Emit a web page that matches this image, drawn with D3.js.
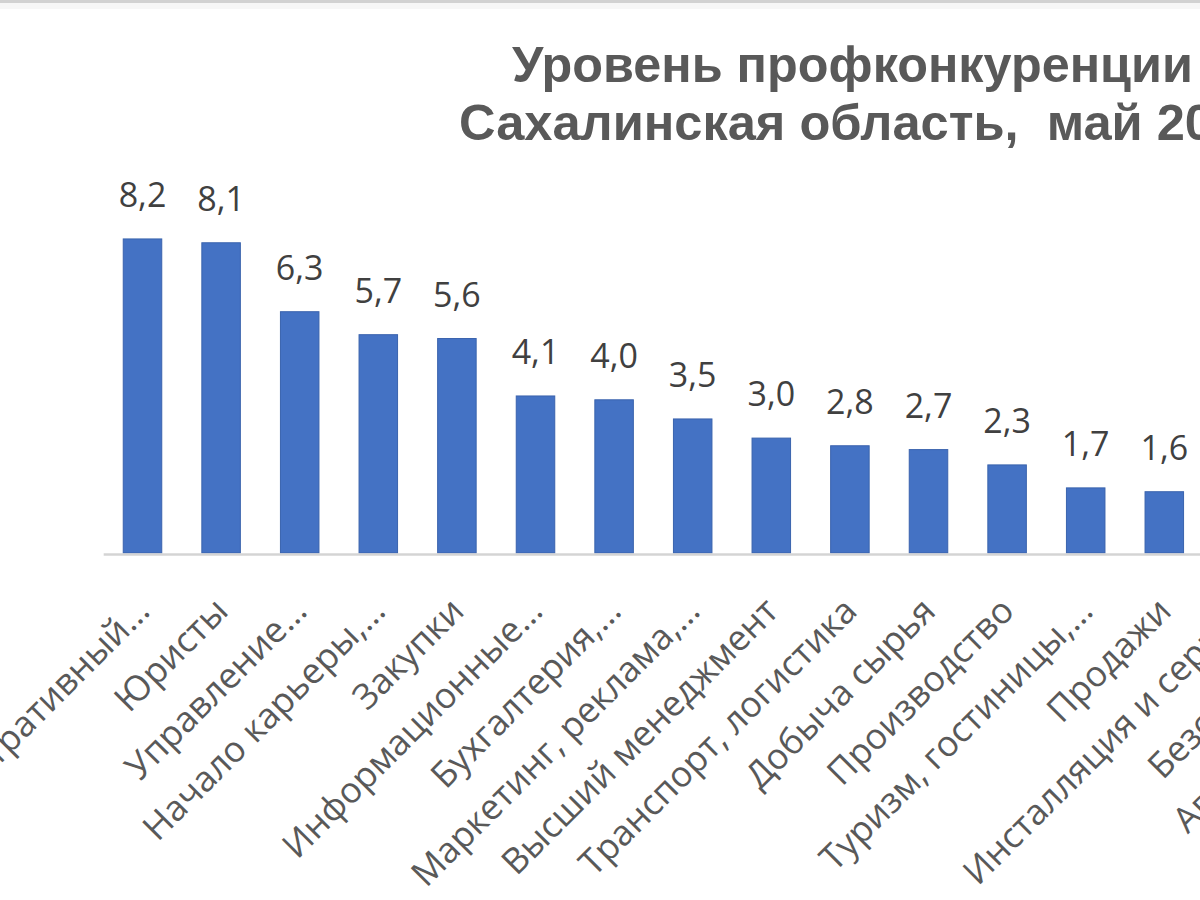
<!DOCTYPE html>
<html>
<head>
<meta charset="utf-8">
<script src="https://cdn.jsdelivr.net/npm/d3@7"></script>
<style>
  html, body { margin: 0; padding: 0; background: #ffffff; overflow: hidden; }
  svg { display: block; }
</style>
</head>
<body>
<svg id="chart" width="1200" height="900"></svg>
<script>
// ---- data ----
const titleLines = ["Уровень профконкуренции", "Сахалинская область,  май 20"];
const categories = [
  "Административный…",
  "Юристы",
  "Управление…",
  "Начало карьеры,…",
  "Закупки",
  "Информационные…",
  "Бухгалтерия,…",
  "Маркетинг, реклама,…",
  "Высший менеджмент",
  "Транспорт, логистика",
  "Добыча сырья",
  "Производство",
  "Туризм, гостиницы,…",
  "Продажи",
  "Инсталляция и сервис",
  "Безопасность",
  "Автомобильный…"
];
// values of the last three bars lie outside the visible picture
const values = [8.2, 8.1, 6.3, 5.7, 5.6, 4.1, 4.0, 3.5, 3.0, 2.8, 2.7, 2.3, 1.7, 1.6, null, null, null];

// ---- layout ----
const svg = d3.select("#chart");
const W = 1200, H = 900;
const axisY = 553;
const xStart = 103.2, step = 78.6;

const data = categories.map((c, i) => ({ c, v: values[i] }));

const x = d3.scaleBand()
  .domain(categories)
  .range([xStart, xStart + step * categories.length])
  .paddingInner(0.51)
  .paddingOuter(0.255);

const y = d3.scaleLinear()
  .domain([0, 9])
  .range([axisY, axisY - 9 * 38.3]);

// top frame line of the screenshot
svg.append("rect").attr("x", 0).attr("y", 0).attr("width", W).attr("height", 3).attr("fill", "#d2d2d2");
svg.append("rect").attr("x", 0).attr("y", 3).attr("width", W).attr("height", 6).attr("fill", "#f7f7f7");

// title
const title = svg.append("g").attr("class", "title");
const titleX = [512, 459];
const titleLen = [681, 754];
const titleBase = [82, 140];
titleLines.forEach((t, i) => {
  title.append("text")
    .attr("x", titleX[i])
    .attr("y", titleBase[i])
    .attr("textLength", titleLen[i])
    .attr("lengthAdjust", "spacingAndGlyphs")
    .style("white-space", "pre")
    .attr("font-family", "'Liberation Sans Narrow', 'Liberation Sans', Arial, sans-serif")
    .attr("font-weight", "bold")
    .attr("font-size", 50)
    .attr("fill", "#595959")
    .text(t);
});

// bars
const shown = data.filter(d => d.v != null);
svg.append("g").selectAll("rect")
  .data(shown)
  .join("rect")
  .attr("x", d => x(d.c))
  .attr("width", x.bandwidth())
  .attr("y", d => y(d.v))
  .attr("height", d => y(0) - y(d.v))
  .attr("fill", "#4472c4")
  .attr("stroke", "#3a63ad")
  .attr("stroke-width", 1);

// value labels
svg.append("g").selectAll("text")
  .data(shown)
  .join("text")
  .attr("x", d => x(d.c) + x.bandwidth() / 2)
  .attr("y", d => y(d.v) - 32)
  .attr("text-anchor", "middle")
  .attr("font-family", "'Open Sans', 'Noto Sans', sans-serif")
  .attr("font-size", 34)
  .attr("fill", "#404040")
  .text(d => d3.format(".1f")(d.v).replace(".", ","));

// category axis
const axis = svg.append("g")
  .attr("transform", `translate(0,${axisY + 1})`)
  .call(d3.axisBottom(x).tickSize(0).tickSizeOuter(0));
axis.select(".domain")
  .attr("stroke", "#d4d4d4")
  .attr("stroke-width", 2.5);
axis.selectAll(".tick text")
  .attr("x", 0).attr("y", 0).attr("dy", 0)
  .attr("transform", "translate(9,59) rotate(-45)")
  .attr("text-anchor", "end")
  .attr("font-family", "'Open Sans', 'Noto Sans', sans-serif")
  .attr("font-size", 35.5)
  .attr("fill", "#595959");
</script>
</body>
</html>
